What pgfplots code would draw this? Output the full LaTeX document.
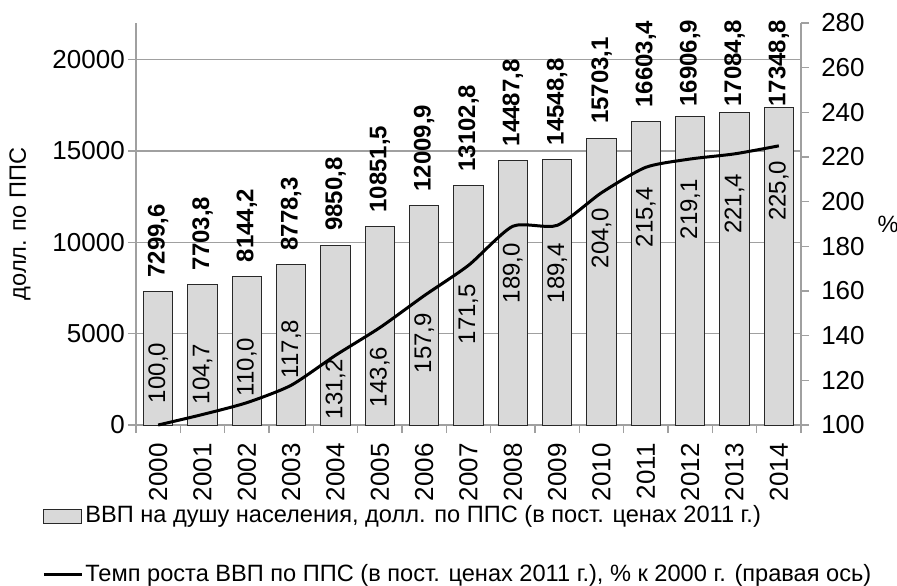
\documentclass[border=0pt]{standalone}
\usepackage{fontspec}
\setmainfont{Liberation Sans}
\usepackage{pgfplots}
\pgfplotsset{compat=1.18}
\definecolor{axisgray}{RGB}{160,160,160}
\definecolor{barfill}{RGB}{217,217,217}
\definecolor{baredge}{RGB}{40,40,40}

\pgfplotstableread{
x y
0 7299.6
1 7703.8
2 8144.2
3 8778.3
4 9850.8
5 10851.5
6 12009.9
7 13102.8
8 14487.8
9 14548.8
10 15703.1
11 16603.4
12 16906.9
13 17084.8
14 17348.8
}\gdp

\pgfplotstableread{
x y lab
0 8050 7299,6
1 8454 7703,8
2 8894 8144,2
3 9528 8778,3
4 10600 9850,8
5 11601 10851,5
6 12760 12009,9
7 13853 13102,8
8 15238 14487,8
9 15299 14548,8
10 16453 15703,1
11 17353 16603,4
12 17405 16906,9
13 17405 17084,8
14 17405 17348,8
}\gdplab

\pgfplotstableread{
x y
0 100.0
1 104.7
2 110.0
3 117.8
4 131.2
5 143.6
6 157.9
7 171.5
8 189.0
9 189.4
10 204.0
11 215.4
12 219.1
13 221.4
14 225.0
}\growth

\pgfplotstableread{
x y lab
0 123.3 100,0
1 122.8 104,7
2 126.0 110,0
3 134.0 117,8
4 116.0 131,2
5 121.5 143,6
6 136.7 157,9
7 149.7 171,5
8 168.0 189,0
9 168.0 189,4
10 183.7 204,0
11 193.0 215,4
12 196.7 219,1
13 199.0 221,4
14 204.8 225,0
}\growthlab

\begin{document}
\fontsize{11.8}{14}\selectfont
\begin{tikzpicture}
\path[use as bounding box] (-68pt,-80pt) rectangle (380.5pt,212.5pt);
\begin{axis}[
  at={(0,0)}, anchor=south west,
  scale only axis, width=332.5pt, height=201pt,
  xmin=-0.5, xmax=14.5, ymin=0, ymax=22000,
  axis x line*=bottom, axis y line*=left,
  axis line style={draw=axisgray, line width=0.6pt, -},
  xtick={-0.5,0.5,...,14.5},
  x tick label as interval,
  xticklabels={2000,2001,2002,2003,2004,2005,2006,2007,2008,2009,2010,2011,2012,2013,2014},
  tick label style={font=\fontsize{13}{15}\selectfont},
  xticklabel style={yshift=-1pt, rotate=90, anchor=east},
  yticklabel style={xshift=2.5pt},
  ytick={0,5000,10000,15000,20000},
  scaled y ticks=false,
  ymajorgrids, grid style={draw=axisgray, line width=0.6pt},
  tick style={draw=axisgray, line width=0.6pt},
  tick align=outside, major tick length=4pt,
  /pgf/number format/assume math mode=true,
  /pgf/number format/1000 sep={},
  ylabel={долл. по ППС},
  ylabel style={font=\fontsize{12.3}{14}\selectfont},
  every axis y label/.style={at={(axis description cs:-0.1744,0.5)}, rotate=90, anchor=center},
  clip=false,
]
\addplot[ybar, bar width=14.8pt, fill=barfill, draw=baredge, line width=0.5pt] table[x=x, y=y] {\gdp};
\addplot[draw=none, mark=none, nodes near coords, point meta=explicit symbolic,
  nodes near coords style={rotate=90, anchor=west, inner sep=0pt, text=black, font=\fontsize{12}{14}\selectfont\bfseries}]
  table[x=x, y=y, meta=lab] {\gdplab};
\end{axis}
\begin{axis}[
  at={(0,0)}, anchor=south west,
  scale only axis, width=332.5pt, height=201pt,
  xmin=-0.5, xmax=14.5, ymin=100, ymax=280,
  axis x line=none, axis y line*=right,
  axis line style={draw=axisgray, line width=0.6pt, -},
  ytick={100,120,...,280},
  tick label style={font=\fontsize{13}{15}\selectfont},
  yticklabel style={xshift=2pt},
  tick style={draw=axisgray, line width=0.6pt},
  tick align=outside, major tick length=4pt,
  /pgf/number format/assume math mode=true,
  ylabel={\%},
  ylabel style={font=\fontsize{12.3}{14}\selectfont},
  every axis y label/.style={at={(axis description cs:1.1308,0.5)}, anchor=center},
  clip=false,
  legend cell align=left,
  legend style={at={(axis description cs:-0.1414,-0.195)}, anchor=north west, draw=none, fill=none,
    inner sep=0pt, row sep=17pt, nodes={inner sep=1pt}, font=\fontsize{11.8}{14}\selectfont,
    /tikz/every even column/.append style={column sep=2pt}},
]
\addlegendimage{legend image code/.code={\draw[fill=barfill, draw=baredge, line width=0.5pt] (0pt,-3.5pt) rectangle (19pt,3.5pt);}}
\addlegendentry{ВВП на душу населения, долл. по ППС (в пост. ценах 2011 г.)}
\addplot[black, line width=1.5pt, smooth, tension=0.4, mark=none,
  legend image code/.code={\draw[black, line width=1.5pt] (0pt,0pt) -- (19pt,0pt);}]
  table[x=x, y=y] {\growth};
\addlegendentry{Темп роста ВВП по ППС (в пост. ценах 2011 г.), \% к 2000 г. (правая ось)}
\addplot[forget plot, draw=none, mark=none, nodes near coords, point meta=explicit symbolic,
  nodes near coords style={rotate=90, anchor=center, inner sep=0pt, text=black, font=\fontsize{12}{14}\selectfont}]
  table[x=x, y=y, meta=lab] {\growthlab};
\end{axis}
\end{tikzpicture}
\end{document}
